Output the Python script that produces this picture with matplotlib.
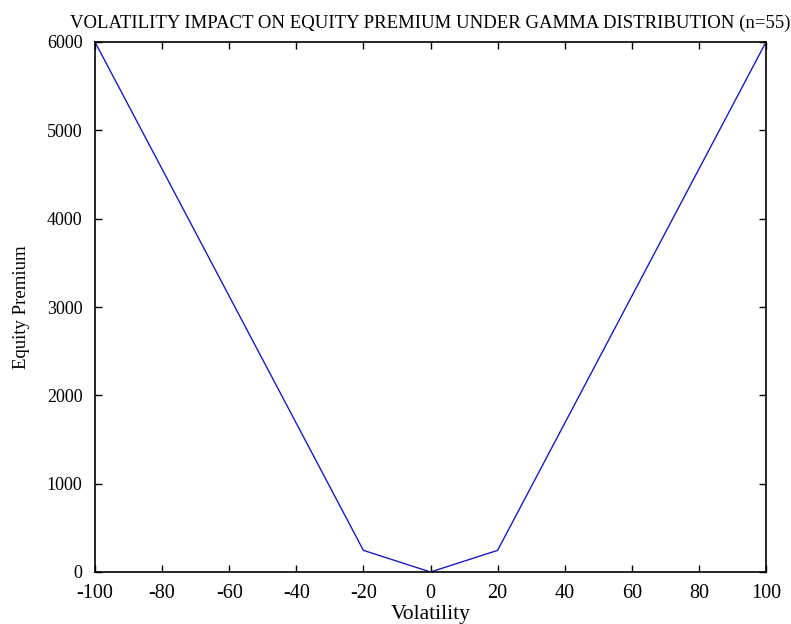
import numpy as np
import matplotlib.pyplot as plt

# Kinks
volatility = [-100, -20, 0, 20, 100]
premium = [6000, 245, 0, 245, 6000]

x_ticks = [-100, -80, -60, -40, -20, 0, 20, 40, 60, 80, 100]
y_ticks = [0, 1000, 2000, 3000, 4000, 5000, 6000]

plt.rcParams['font.family'] = ['Liberation Serif', 'DejaVu Serif']

fig = plt.figure(figsize=(7.91, 6.24), dpi=100)
ax = fig.add_axes([95 / 791, 1 - 572 / 624, (766 - 95) / 791, (572 - 42) / 624])
ax.plot(volatility, premium, color='#1a1acc', linewidth=1)
ax.set_xlim(-100, 100)
ax.set_ylim(0, 6000)
ax.set_xticks(x_ticks)
ax.set_yticks(y_ticks)
ax.set_xticklabels([str(v) for v in x_ticks], fontsize=14.5)
ax.set_yticklabels([str(v) for v in y_ticks], fontsize=13)
ax.tick_params(direction='in', top=True, right=True, length=5, width=1)
ax.tick_params(axis='x', pad=9)
ax.tick_params(axis='y', pad=9)
for s in ax.spines.values():
    s.set_linewidth(1.2)
ax.set_xlabel("Volatility", fontsize=15.5, labelpad=1)
ax.set_ylabel("Equity Premium", fontsize=13.5, labelpad=12)
ax.set_title("VOLATILITY IMPACT ON EQUITY PREMIUM UNDER GAMMA DISTRIBUTION (n=55)",
             fontsize=13.5, pad=10)
fig.savefig('out.png', dpi=100)
